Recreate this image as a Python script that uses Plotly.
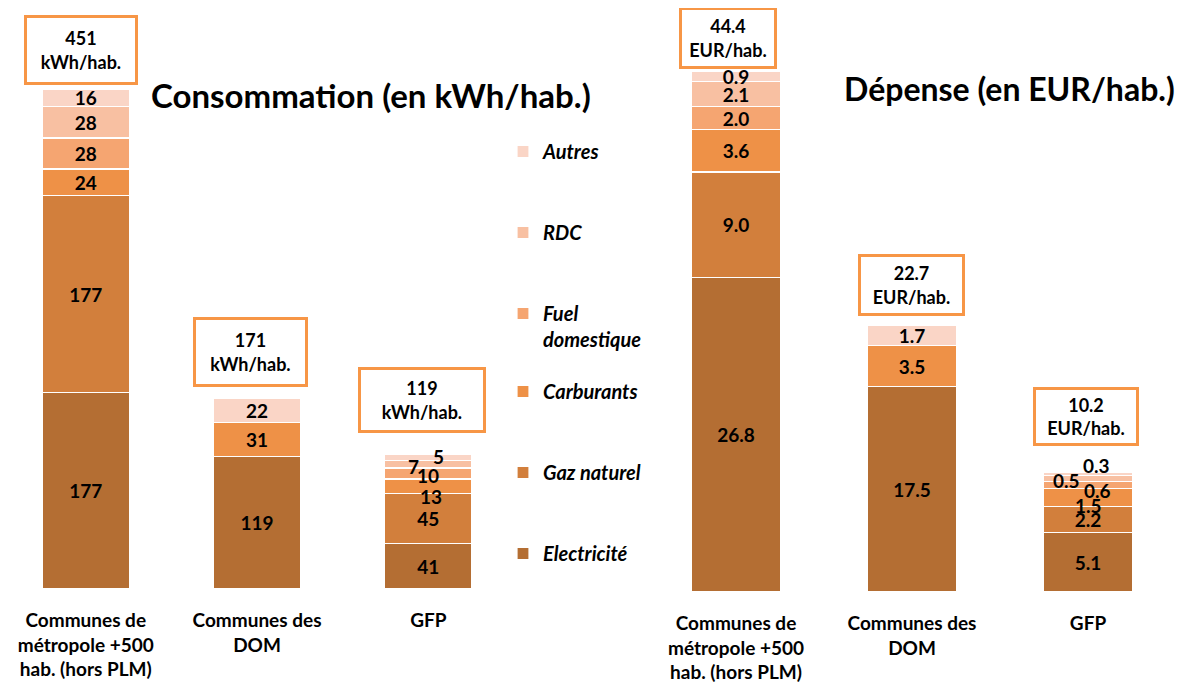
import plotly.graph_objects as go

# ---------------- data ----------------
categories = ["Communes de<br>métropole +500<br>hab. (hors PLM)", "Communes des<br>DOM", "GFP"]
energies = ["Electricité", "Gaz naturel", "Carburants", "Fuel domestique", "RDC", "Autres"]
legend_names = ["Electricité", "Gaz naturel", "Carburants", "Fuel<br>domestique", "RDC", "Autres"]

# Consommation (kWh/hab.)
conso_elec = [177, 119, 41]
conso_gaz = [177, 0, 45]
conso_carb = [24, 31, 13]
conso_fuel = [28, 0, 10]
conso_rdc = [28, 0, 7]
conso_autres = [16, 22, 5]
conso_totals = [451, 171, 119]

# Dépense (EUR/hab.)
dep_elec = [26.8, 17.5, 5.1]
dep_gaz = [9.0, 0, 2.2]
dep_carb = [3.6, 3.5, 1.5]
dep_fuel = [2.0, 0, 0.6]
dep_rdc = [2.1, 0, 0.5]
dep_autres = [0.9, 1.7, 0.3]
dep_totals = [44.4, 22.7, 10.2]

conso_series = [conso_elec, conso_gaz, conso_carb, conso_fuel, conso_rdc, conso_autres]
dep_series = [dep_elec, dep_gaz, dep_carb, dep_fuel, dep_rdc, dep_autres]

# ---------------- style ----------------
colors = ["#B46E33", "#D27F3C", "#EE9147", "#F5A571", "#F8C0A2", "#FAD5C6"]
FONT = "Lato"
PAGE_OFF = 8            # default body margin of the html page
W, H = 1188 - PAGE_OFF, 690 - PAGE_OFF

def fx(px):
    return (px - PAGE_OFF) / W

def fy(py):
    return 1 - (py - PAGE_OFF) / H

# crowded label offsets (xshift, yshift) in px : (category index, energy index)
conso_label_offsets = {(2, 2): (3, -10), (2, 3): (0, -2), (2, 4): (-15, -2), (2, 5): (10, 1)}
dep_label_offsets = {(2, 2): (0, -8), (2, 3): (9, -5), (2, 4): (-22, -2), (2, 5): (8, 9)}

# total boxes: (xshift, yshift, width, height)
conso_box_style = [(-5, 3, 100, 56), (-7, 12, 101, 56), (-6, 24, 114, 52)]
dep_box_style = [(-8, 2, 84, 48), (-1, 10, 93, 48), (-2, 26, 92, 45)]

LABEL_SIZE = 19

fig = go.Figure()
annotations = []

def add_chart(series, totals, fmt, xa, ya, offsets, box_style, unit, legend_on):
    cum = [0.0] * len(categories)
    for ei, vals in enumerate(series):
        texts = []
        for ci, v in enumerate(vals):
            if v == 0 or (ci, ei) in offsets:
                texts.append("")
            else:
                texts.append("<b>%s</b>" % fmt(v))
            if v != 0 and (ci, ei) in offsets:
                dx, dy = offsets[(ci, ei)]
                annotations.append(dict(
                    x=categories[ci], y=cum[ci] + v / 2, xref=xa, yref=ya,
                    text="<b>%s</b>" % fmt(v), showarrow=False,
                    xshift=dx, yshift=dy,
                    font=dict(family=FONT, size=LABEL_SIZE, color="black")))
        for ci, v in enumerate(vals):
            cum[ci] += v
        fig.add_trace(go.Bar(
            x=categories, y=[v if v != 0 else None for v in vals],
            name="<b><i>%s</i></b>" % legend_names[ei],
            marker=dict(color=colors[ei], line=dict(color="white", width=1.2)),
            text=texts, textangle=0,
            textposition="inside", insidetextanchor="middle",
            textfont=dict(family=FONT, size=LABEL_SIZE, color="black"),
            xaxis=xa, yaxis=ya,
            showlegend=legend_on,
            legend="legend" if ei >= 3 else "legend2",
            legendgroup="g%d" % ei,
            legendrank=1000 - ei,
            hoverinfo="skip",
        ))
    for ci, tot in enumerate(totals):
        dx, dy, bw, bh = box_style[ci]
        annotations.append(dict(
            x=categories[ci], y=tot, xref=xa, yref=ya, yanchor="bottom",
            text="<b>%s<br>%s</b>" % (fmt(tot), unit), showarrow=False,
            xshift=dx, yshift=dy, width=bw, height=bh,
            bgcolor="white", bordercolor="#F79646", borderwidth=3, borderpad=4,
            font=dict(family=FONT, size=18, color="black")))

add_chart(conso_series, conso_totals, lambda v: "%d" % round(v), "x", "y",
          conso_label_offsets, conso_box_style, "kWh/hab.", True)
add_chart(dep_series, dep_totals, lambda v: "%.1f" % v, "x2", "y2",
          dep_label_offsets, dep_box_style, "EUR/hab.", False)

annotations.append(dict(x=fx(149), y=fy(95), xref="paper", yref="paper",
                        xanchor="left", yanchor="middle", showarrow=False,
                        text="<b>Consommation (en kWh/hab.)</b>",
                        font=dict(family=FONT, size=33, color="black")))
annotations.append(dict(x=fx(842), y=fy(88), xref="paper", yref="paper",
                        xanchor="left", yanchor="middle", showarrow=False,
                        text="<b>Dépense (en EUR/hab.)</b>",
                        font=dict(family=FONT, size=32, color="black")))

axis_common = dict(showgrid=False, zeroline=False, showline=False, ticks="",
                   tickfont=dict(family=FONT, size=19, color="black"),
                   fixedrange=True, automargin=False, ticklabelstandoff=18,
                   tickprefix="<b>", ticksuffix="</b>")

legend_common = dict(xanchor="left", yanchor="top", valign="top",
                     traceorder="grouped", tracegroupgap=52,
                     font=dict(family=FONT, size=20, color="black"),
                     bgcolor="rgba(0,0,0,0)")

left_base, right_base = 589, 592
left_scale, right_scale = 1.111, 11.73          # px per unit in the reference
left_slot = 171.3                                 # px per category (left chart)
left_span = (514 - PAGE_OFF) / left_slot

fig.update_layout(
    width=W, height=H,
    margin=dict(l=0, r=0, t=0, b=0, autoexpand=False),
    paper_bgcolor="white", plot_bgcolor="white",
    barmode="stack", bargap=0.49,
    uniformtext=dict(minsize=LABEL_SIZE, mode="show"),
    xaxis=dict(domain=[0, fx(514)], anchor="y", range=[2.5 - left_span, 2.5],
               **axis_common),
    yaxis=dict(domain=[fy(left_base), 1],
               range=[0, (left_base - PAGE_OFF) / left_scale],
               visible=False, automargin=False),
    xaxis2=dict(domain=[fx(648), fx(1176)], anchor="y2", **axis_common),
    yaxis2=dict(domain=[fy(right_base), 1],
                range=[0, (right_base - PAGE_OFF) / right_scale],
                visible=False, automargin=False),
    legend=dict(x=fx(503), y=fy(132), **legend_common),
    legend2=dict(x=fx(503), y=fy(372), **legend_common),
    annotations=annotations,
)

fig.write_html("out.html")
